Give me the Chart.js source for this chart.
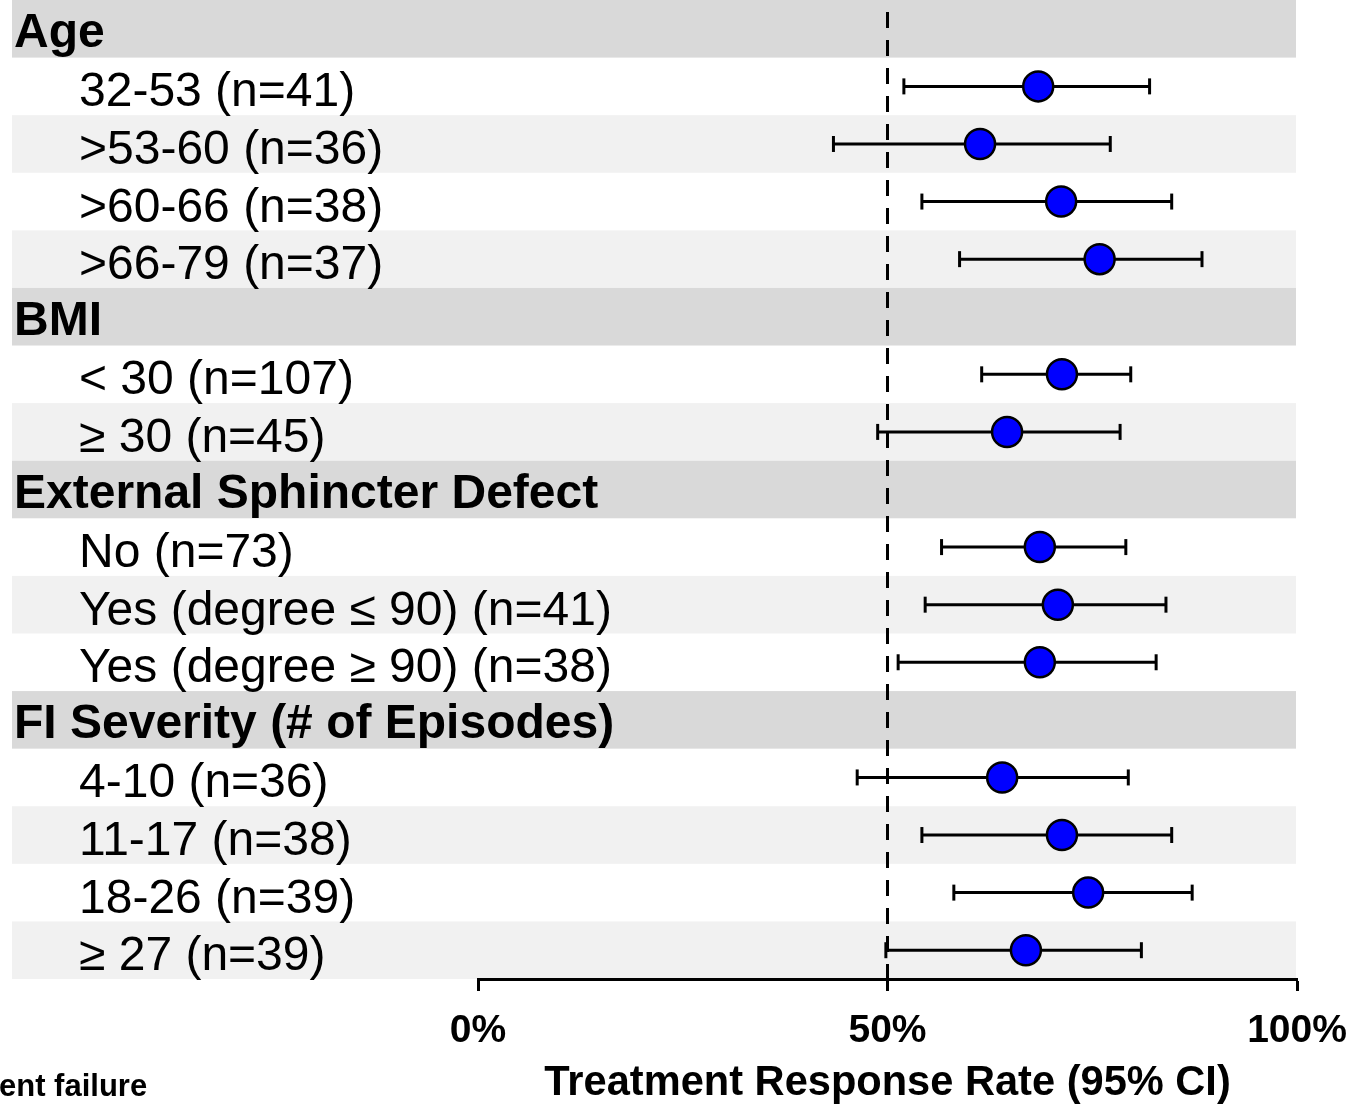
<!DOCTYPE html>
<html>
<head>
<meta charset="utf-8">
<script src="https://cdn.jsdelivr.net/npm/chart.js@4/dist/chart.umd.min.js"></script>
<style>
  body { margin: 0; background: #fff; }
  canvas { display: block; }
</style>
</head>
<body>
<canvas id="forest" width="1354" height="1104"></canvas>
<script>
// Rows from top to bottom: group headers have no estimate
const rowLabels = [
    "Age", "32-53 (n=41)", ">53-60 (n=36)", ">60-66 (n=38)", ">66-79 (n=37)",
    "BMI", "< 30 (n=107)", "≥ 30 (n=45)",
    "External Sphincter Defect", "No (n=73)", "Yes (degree ≤ 90) (n=41)", "Yes (degree ≥ 90) (n=38)",
    "FI Severity (# of Episodes)", "4-10 (n=36)", "11-17 (n=38)", "18-26 (n=39)", "≥ 27 (n=39)"
];
const isHeader = [true, false, false, false, false, true, false, false, true, false, false, false, true, false, false, false, false];

// Treatment response rate (%) and 95% CI bounds
const responseRate = [null, 68.4, 61.3, 71.2, 75.9, null, 71.3, 64.6, null, 68.6, 70.8, 68.6, null, 64.0, 71.3, 74.5, 66.9];
const lowerCI      = [null, 52.0, 43.4, 54.2, 58.8, null, 61.5, 48.8, null, 56.6, 54.6, 51.3, null, 46.3, 54.2, 58.1, 49.8];
const upperCI      = [null, 82.0, 77.2, 84.7, 88.4, null, 79.7, 78.4, null, 79.1, 84.0, 82.8, null, 79.4, 84.7, 87.2, 81.0];

const xTicks = [0, 50, 100];
const referenceLine = 50;
const axisTitle = "Treatment Response Rate (95% CI)";
const cornerNote = "ent failure";

const FONT = "'Liberation Sans', Arial, sans-serif";

// One small line dataset per row for the confidence interval (caps are rotated 'line' points)
var ciDatasets = [];
rowLabels.forEach(function (label, i)
{
    if (isHeader[i]) return;
    ciDatasets.push({
        label: label + " CI",
        data: [{x: lowerCI[i], y: i}, {x: upperCI[i], y: i}],
        showLine: true,
        borderColor: "#000",
        borderWidth: 3,
        pointStyle: "line",
        pointRotation: 90,
        pointRadius: 8,
        pointBorderWidth: 3,
        pointBorderColor: "#000",
        pointHoverRadius: 8
    });
});

var estimatePoints = [];
rowLabels.forEach(function (label, i)
{
    if (!isHeader[i]) estimatePoints.push({x: responseRate[i], y: i});
});

// Shaded rows + row labels + stray caption, drawn around the library's scales
const rowsPlugin = {
    id: "rows",
    beforeDraw: function (chart)
    {
        var ctx = chart.ctx, y = chart.scales.y, x = chart.scales.x;
        var left = 12, right = x.right - 1;
        var within = 0;
        ctx.save();
        for (var i = 0; i < rowLabels.length; i++)
        {
            var top = y.getPixelForValue(i - 0.5);
            var bottom = y.getPixelForValue(i + 0.5);
            var fill = null;
            if (isHeader[i]) { fill = "#d9d9d9"; within = 0; }
            else
            {
                if (within % 2 === 1) fill = "#f1f1f1";
                within++;
            }
            if (fill)
            {
                ctx.fillStyle = fill;
                ctx.fillRect(left, top, right - left, bottom - top);
            }
        }
        ctx.restore();
    },
    afterDraw: function (chart)
    {
        var ctx = chart.ctx, y = chart.scales.y;
        ctx.save();
        ctx.fillStyle = "#000";
        ctx.textAlign = "left";
        ctx.textBaseline = "alphabetic";
        for (var i = 0; i < rowLabels.length; i++)
        {
            var cy = y.getPixelForValue(i);
            if (isHeader[i])
            {
                ctx.font = "bold 48px " + FONT;
                ctx.fillText(rowLabels[i], 14, cy + 18);
            }
            else
            {
                ctx.font = "48px " + FONT;
                ctx.fillText(rowLabels[i], 79, cy + 20);
            }
        }
        ctx.font = "bold 31px " + FONT;
        ctx.fillText(cornerNote, -1, 1096);
        ctx.restore();
    }
};

new Chart(document.getElementById("forest").getContext("2d"),
{
    type: "scatter",
    data: {
        datasets: [
            {
                label: "Response rate",
                data: estimatePoints,
                pointRadius: 15,
                pointHoverRadius: 15,
                pointBorderWidth: 2.5,
                backgroundColor: "#0000ff",
                borderColor: "#000"
            }
        ].concat(ciDatasets, [
            {
                label: "Reference",
                data: [{x: referenceLine, y: -0.29}, {x: referenceLine, y: rowLabels.length - 0.5}],
                showLine: true,
                borderColor: "#000",
                borderWidth: 3,
                borderDash: [16, 12],
                pointRadius: 0
            }
        ])
    },
    options: {
        responsive: false,
        animation: false,
        layout: { autoPadding: false, padding: { left: 478, right: 57, top: 0, bottom: 0 } },
        plugins: {
            legend: { display: false },
            tooltip: { enabled: false }
        },
        scales: {
            y: {
                type: "linear",
                min: -0.5,
                max: rowLabels.length - 0.5,
                reverse: true,
                display: false
            },
            x: {
                type: "linear",
                min: 0,
                max: 100,
                afterBuildTicks: function (scale) { scale.ticks = xTicks.map(function (v) { return {value: v}; }); },
                // keep the plot edges where the reference has them
                afterFit: function (scale) { scale.paddingLeft = 0; scale.paddingRight = 0; scale.height = 125; },
                grid: { display: true, drawOnChartArea: false, drawTicks: true, tickLength: 12, tickWidth: 3, tickColor: "#000" },
                border: { display: true, color: "#000", width: 3 },
                ticks: {
                    color: "#000",
                    font: { family: FONT, size: 39, weight: "bold" },
                    padding: 17,
                    maxRotation: 0,
                    autoSkip: false,
                    callback: function (v) { return v + "%"; }
                },
                title: {
                    display: true,
                    text: axisTitle,
                    color: "#000",
                    font: { family: FONT, size: 41.6, weight: "bold", lineHeight: 1.0 },
                    padding: { top: 0, bottom: 0 }
                }
            }
        }
    },
    plugins: [rowsPlugin]
});
</script>
</body>
</html>
